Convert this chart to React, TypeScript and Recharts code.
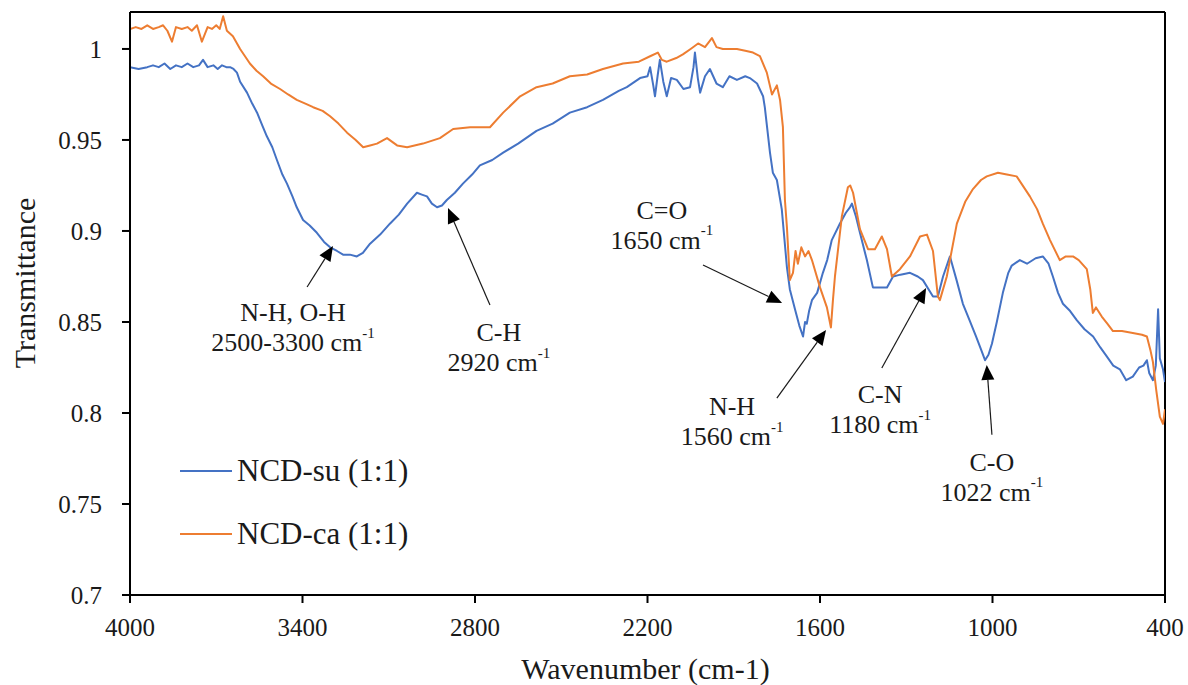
import React from "react";
import { LineChart, Line, XAxis, YAxis, ReferenceLine, ReferenceDot, Legend } from "recharts";

// FTIR spectra (wavenumber in cm-1, transmittance)
const SU_WAVENUMBER = [
  4000, 3970, 3940, 3920, 3900, 3880, 3860, 3840, 3820, 3800, 3780, 3760, 3746, 3730, 3710, 3695, 3680,
  3665, 3652, 3640, 3628, 3617, 3593, 3575, 3558, 3540, 3524, 3505, 3489, 3470, 3454, 3435, 3420, 3398,
  3375, 3350, 3325, 3304, 3280, 3259, 3235, 3211, 3190, 3165, 3130, 3096, 3065, 3036, 3002, 2985, 2967,
  2950, 2932, 2915, 2898, 2870, 2842, 2810, 2783, 2740, 2702, 2650, 2586, 2530, 2470, 2410, 2355, 2300,
  2272, 2226, 2200, 2191, 2180, 2174, 2165, 2157, 2145, 2133, 2118, 2098, 2075, 2052, 2040, 2035, 2025,
  2017, 2000, 1983, 1960, 1938, 1915, 1889, 1860, 1844, 1819, 1798, 1792, 1774, 1764, 1750, 1733, 1715,
  1705, 1687, 1672, 1659, 1652, 1646, 1638, 1628, 1610, 1590, 1575, 1559, 1531, 1510, 1496, 1489, 1475,
  1461, 1437, 1416, 1390, 1367, 1346, 1320, 1287, 1260, 1242, 1207, 1190, 1172, 1148, 1125, 1103, 1080,
  1057, 1040, 1026, 1014, 1002, 985, 964, 945, 933, 905, 880, 850, 825, 805, 790, 772, 755, 730, 707, 680,
  650, 625, 602, 580, 557, 535, 512, 490, 475, 463, 455, 442, 432, 424, 418, 407, 400,
];
const SU_TRANSMITTANCE = [
  0.99, 0.989, 0.99, 0.991, 0.99, 0.992, 0.989, 0.991, 0.99, 0.992, 0.99, 0.991, 0.994, 0.99, 0.991, 0.989,
  0.991, 0.99, 0.99, 0.989, 0.987, 0.982, 0.976, 0.97, 0.965, 0.958, 0.952, 0.946, 0.939, 0.931, 0.926,
  0.919, 0.913, 0.906, 0.903, 0.899, 0.894, 0.891, 0.889, 0.887, 0.887, 0.886, 0.888, 0.893, 0.898, 0.904,
  0.909, 0.915, 0.921, 0.92, 0.919, 0.915, 0.913, 0.914, 0.917, 0.921, 0.926, 0.931, 0.936, 0.939, 0.943,
  0.948, 0.955, 0.959, 0.965, 0.968, 0.972, 0.977, 0.979, 0.984, 0.985, 0.99, 0.98, 0.974, 0.985, 0.994,
  0.982, 0.974, 0.984, 0.983, 0.978, 0.979, 0.99, 0.998, 0.984, 0.976, 0.985, 0.989, 0.981, 0.979, 0.985,
  0.983, 0.985, 0.984, 0.981, 0.974, 0.968, 0.943, 0.932, 0.928, 0.912, 0.88, 0.868, 0.857, 0.848, 0.842,
  0.85, 0.849, 0.856, 0.862, 0.866, 0.877, 0.884, 0.895, 0.904, 0.91, 0.913, 0.915, 0.908, 0.899, 0.884,
  0.869, 0.869, 0.869, 0.875, 0.876, 0.877, 0.875, 0.873, 0.864, 0.864, 0.875, 0.886, 0.873, 0.86, 0.851,
  0.842, 0.835, 0.829, 0.832, 0.838, 0.85, 0.866, 0.877, 0.881, 0.884, 0.882, 0.885, 0.886, 0.882, 0.875,
  0.866, 0.86, 0.856, 0.851, 0.846, 0.842, 0.836, 0.831, 0.826, 0.824, 0.818, 0.82, 0.825, 0.826, 0.829,
  0.822, 0.818, 0.826, 0.857, 0.83, 0.824, 0.817,
];

const CA_WAVENUMBER = [
  4000, 3980, 3960, 3940, 3920, 3900, 3885, 3870, 3854, 3840, 3820, 3800, 3785, 3767, 3750, 3730, 3715,
  3700, 3688, 3676, 3663, 3642, 3617, 3583, 3560, 3537, 3510, 3478, 3450, 3420, 3390, 3363, 3330, 3304,
  3275, 3245, 3215, 3189, 3165, 3141, 3106, 3071, 3036, 2981, 2922, 2876, 2817, 2748, 2702, 2643, 2586,
  2530, 2470, 2410, 2355, 2285, 2230, 2191, 2164, 2150, 2133, 2100, 2077, 2050, 2024, 2000, 1976, 1960,
  1938, 1889, 1860, 1833, 1809, 1785, 1767, 1750, 1739, 1729, 1722, 1715, 1705, 1694, 1685, 1677, 1665,
  1652, 1640, 1628, 1600, 1576, 1562, 1555, 1548, 1524, 1503, 1495, 1485, 1461, 1433, 1409, 1385, 1367,
  1350, 1322, 1287, 1252, 1228, 1207, 1190, 1183, 1159, 1124, 1095, 1068, 1040, 1020, 981, 950, 916, 870,
  845, 825, 800, 766, 745, 720, 700, 672, 660, 651, 640, 620, 600, 581, 550, 512, 480, 463, 450, 442, 430,
  418, 407, 400,
];
const CA_TRANSMITTANCE = [
  1.011, 1.012, 1.011, 1.013, 1.011, 1.012, 1.013, 1.01, 1.004, 1.012, 1.011, 1.012, 1.01, 1.013, 1.004,
  1.012, 1.011, 1.013, 1.011, 1.018, 1.01, 1.007, 1.0, 0.992, 0.988, 0.985, 0.981, 0.978, 0.975, 0.972,
  0.97, 0.968, 0.966, 0.963, 0.959, 0.954, 0.95, 0.946, 0.947, 0.948, 0.951, 0.947, 0.946, 0.948, 0.951,
  0.956, 0.957, 0.957, 0.965, 0.974, 0.979, 0.981, 0.985, 0.986, 0.989, 0.992, 0.993, 0.996, 0.998, 0.994,
  0.993, 0.995, 0.997, 1.0, 1.003, 1.001, 1.006, 1.001, 1.0, 1.0, 0.999, 0.998, 0.996, 0.987, 0.975, 0.98,
  0.972, 0.957, 0.917, 0.902, 0.873, 0.877, 0.889, 0.882, 0.891, 0.886, 0.889, 0.884, 0.869, 0.858, 0.847,
  0.862, 0.875, 0.908, 0.924, 0.925, 0.921, 0.901, 0.89, 0.89, 0.897, 0.89, 0.875, 0.879, 0.886, 0.897,
  0.898, 0.889, 0.864, 0.862, 0.875, 0.904, 0.916, 0.923, 0.928, 0.93, 0.932, 0.931, 0.93, 0.919, 0.912,
  0.904, 0.895, 0.884, 0.886, 0.886, 0.884, 0.879, 0.868, 0.855, 0.858, 0.853, 0.849, 0.845, 0.845, 0.844,
  0.843, 0.842, 0.834, 0.828, 0.812, 0.798, 0.794, 0.802,
];

const SERIES_NAMES = ["NCD-su (1:1)", "NCD-ca (1:1)"];
const SERIES_COLORS = ["#4472C4", "#ED7D31"];

const X_TICKS = [4000, 3400, 2800, 2200, 1600, 1000, 400];
const Y_TICKS = [0.7, 0.75, 0.8, 0.85, 0.9, 0.95, 1];
const Y_MAX = 1.0203;

// band annotations: label centre, arrow tail and arrow tip (data coordinates)
const BAND_NAMES = ["N-H, O-H", "C-H", "C=O", "N-H", "C-N", "C-O"];
const BAND_RANGES = ["2500-3300", "2920", "1650", "1560", "1180", "1022"];
const LABEL_WN = [3433, 2717, 2150, 1906, 1391, 1002];
const LABEL_T = [0.855, 0.844, 0.9115, 0.8033, 0.81, 0.773];
const ARROW_FROM = [
  [3384, 0.8692],
  [2748, 0.8593],
  [2007, 0.8813],
  [1750, 0.8082],
  [1385, 0.8247],
  [1002, 0.788],
];
const ARROW_TO = [
  [3294, 0.8918],
  [2894, 0.9126],
  [1732, 0.8604],
  [1579, 0.8456],
  [1231, 0.8687],
  [1020, 0.8264],
];

const FONT = "Liberation Serif, DejaVu Serif, serif";
const INK = "#1a1a1a";

const suData = SU_WAVENUMBER.map((wn, i) => ({ wn, t: SU_TRANSMITTANCE[i] }));
const caData = CA_WAVENUMBER.map((wn, i) => ({ wn, t: CA_TRANSMITTANCE[i] }));

function Arrow(props: any) {
  const { x1, y1, x2, y2 } = props;
  const dx = x2 - x1;
  const dy = y2 - y1;
  const len = Math.hypot(dx, dy) || 1;
  const ux = dx / len;
  const uy = dy / len;
  const head = 15;
  const half = 6.5;
  const bx = x2 - ux * head;
  const by = y2 - uy * head;
  const pts = `${x2},${y2} ${bx - uy * half},${by + ux * half} ${bx + uy * half},${by - ux * half}`;
  return (
    <g>
      <line x1={x1} y1={y1} x2={bx} y2={by} stroke={INK} strokeWidth={1.2} />
      <polygon points={pts} fill="#000" />
    </g>
  );
}

function BandLabel({ viewBox, name, range }: any) {
  const cx = viewBox.x + viewBox.width / 2;
  const cy = viewBox.y + viewBox.height / 2;
  return (
    <g style={{ fontFamily: FONT }} fontSize={26} fill={INK}>
      <text x={cx} y={cy} textAnchor="middle" dominantBaseline="central">
        {name}
      </text>
      <text x={cx} y={cy + 30} textAnchor="middle" dominantBaseline="central">
        {range} cm
        <tspan fontSize={15} dy={-10}>
          -1
        </tspan>
      </text>
    </g>
  );
}

function LegendBox() {
  return (
    <div style={{ fontFamily: FONT, fontSize: 31, color: INK }}>
      {SERIES_NAMES.map((name, i) => (
        <div key={name} style={{ display: "flex", alignItems: "center", height: 63 }}>
          <div style={{ width: 52, height: 2, background: SERIES_COLORS[i], marginRight: 5 }} />
          <span>{name}</span>
        </div>
      ))}
    </div>
  );
}

export default function App() {
  return (
    <div style={{ position: "absolute", left: 0, top: 0, background: "#fff", fontFamily: FONT }}>
      <LineChart
        width={1188}
        height={685}
        margin={{ top: 12, right: 23, bottom: 0, left: 0 }}
        style={{ fontFamily: FONT }}
      >
        <XAxis
          type="number"
          dataKey="wn"
          domain={[400, 4000]}
          reversed
          ticks={X_TICKS}
          allowDataOverflow
          height={90}
          stroke="#000"
          axisLine={{ stroke: "#000", strokeWidth: 2 }}
          tickLine={{ stroke: "#000", strokeWidth: 2 }}
          tickSize={8}
          tickMargin={15}
          tick={{ fill: INK, fontSize: 25, style: { fontFamily: FONT } }}
          label={(p: any) => (
            <text
              x={p.viewBox.x + p.viewBox.width / 2 - 2}
              y={679}
              textAnchor="middle"
              style={{ fontFamily: FONT }}
              fontSize={30}
              fill={INK}
            >
              Wavenumber (cm-1)
            </text>
          )}
        />
        <YAxis
          type="number"
          domain={[0.7, Y_MAX]}
          ticks={Y_TICKS}
          allowDataOverflow
          width={130}
          axisLine={{ stroke: "#000", strokeWidth: 2 }}
          tickLine={{ stroke: "#000", strokeWidth: 2 }}
          tickSize={8}
          tickMargin={20}
          tick={{ fill: INK, fontSize: 25, style: { fontFamily: FONT } }}
          label={() => (
            <text
              x={24}
              y={283}
              transform="rotate(-90 24 283)"
              textAnchor="middle"
              dominantBaseline="central"
              style={{ fontFamily: FONT }}
              fontSize={30}
              fill={INK}
            >
              Transmittance
            </text>
          )}
        />
        <ReferenceLine y={Y_MAX} stroke="#000" strokeWidth={2} />
        <ReferenceLine x={400} stroke="#000" strokeWidth={2} />
        <Line
          data={suData}
          dataKey="t"
          name={SERIES_NAMES[0]}
          stroke={SERIES_COLORS[0]}
          strokeWidth={2}
          dot={false}
          type="linear"
          strokeLinejoin="round"
          isAnimationActive={false}
        />
        <Line
          data={caData}
          dataKey="t"
          name={SERIES_NAMES[1]}
          stroke={SERIES_COLORS[1]}
          strokeWidth={2}
          dot={false}
          type="linear"
          strokeLinejoin="round"
          isAnimationActive={false}
        />
        {ARROW_FROM.map((from, i) => (
          <ReferenceLine
            key={`arrow-${i}`}
            segment={[
              { x: from[0], y: from[1] },
              { x: ARROW_TO[i][0], y: ARROW_TO[i][1] },
            ]}
            shape={Arrow}
          />
        ))}
        {BAND_NAMES.map((name, i) => (
          <ReferenceDot
            key={`band-${i}`}
            x={LABEL_WN[i]}
            y={LABEL_T[i]}
            r={1}
            fill="none"
            stroke="none"
            label={(p: any) => <BandLabel viewBox={p.viewBox} name={name} range={BAND_RANGES[i]} />}
          />
        ))}
        <Legend
          layout="horizontal"
          verticalAlign="middle"
          align="center"
          wrapperStyle={{ left: 180, top: 439, width: 280 }}
          content={() => <LegendBox />}
        />
      </LineChart>
    </div>
  );
}
